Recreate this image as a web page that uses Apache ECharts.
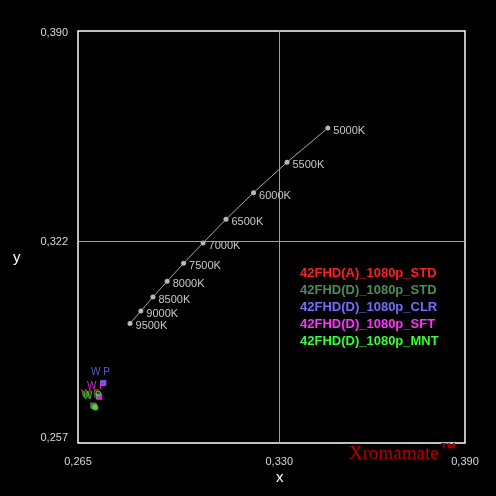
<!DOCTYPE html>
<html><head><meta charset="utf-8">
<script src="https://cdn.jsdelivr.net/npm/echarts@6/dist/echarts.min.js"></script>
<style>html,body{margin:0;padding:0;background:#000;}#c{width:496px;height:496px;}</style>
</head><body><div id="c"></div>
<script>
const locusLabels = ['5000K','5500K','6000K','6500K','7000K','7500K','8000K','8500K','9000K','9500K'];
const locusX = [0.3457,0.3325,0.3217,0.3128,0.3054,0.2991,0.2938,0.2892,0.2853,0.2818];
const locusY = [0.3587,0.3476,0.3378,0.3292,0.3216,0.3150,0.3092,0.3041,0.2996,0.2956];
const seriesNames = ['42FHD(A)_1080p_STD','42FHD(D)_1080p_STD','42FHD(D)_1080p_CLR','42FHD(D)_1080p_SFT','42FHD(D)_1080p_MNT'];
const seriesColors = ['#ff2020','#4c8c5c','#7070ff','#ff33ff','#33ff33'];
const wpX = [0.2702, 0.2699, 0.2732, 0.2719, 0.2706];
const wpY = [0.2689, 0.2691, 0.2764, 0.2719, 0.2685];
const wpLabel = 'W P';
const xTicks = [0.265, 0.330, 0.390];
const yTicks = [0.257, 0.322, 0.390];
const xMid = 0.330, yMid = 0.322;

const fmt = v => v.toFixed(3).replace('.', ',');
const chart = echarts.init(document.getElementById('c'));

const wpSeries = seriesNames.map((n, i) => ({
  name: n, type: 'scatter', z: 5 + i,
  symbol: i === 4 ? 'circle' : 'rect', symbolSize: 6,
  itemStyle: { color: seriesColors[i] },
  label: { show: true, position: 'top', distance: 3, offset: [-3, 0], formatter: wpLabel,
           color: seriesColors[i], fontSize: 10, fontFamily: 'Liberation Sans' },
  data: [[wpX[i], wpY[i]]]
}));

const yLabelFmt = v => {
  const s = fmt(v);
  if (Math.abs(v - yTicks[0]) < 1e-9) return '{lo|' + s + '}';
  if (Math.abs(v - yTicks[2]) < 1e-9) return '{hi|' + s + '}';
  return s;
};
const yLabelRich = {
  lo: { color: '#d8d8d8', fontSize: 11, fontFamily: 'Liberation Sans', padding: [0, 0, 10, 0] },
  hi: { color: '#d8d8d8', fontSize: 11, fontFamily: 'Liberation Sans', padding: [4, 0, 0, 0] }
};

chart.setOption({
  backgroundColor: '#000',
  animation: false,
  grid: { left: 78, right: 31, top: 31, bottom: 53, show: true, borderColor: '#ffffff', borderWidth: 1.5, backgroundColor: 'transparent' },
  xAxis: {
    type: 'value', min: xTicks[0], max: xTicks[2],
    axisLine: { show: false }, axisTick: { show: false }, splitLine: { show: false },
    axisLabel: { customValues: xTicks, formatter: fmt, color: '#d8d8d8', fontSize: 11, fontFamily: 'Liberation Sans', margin: 13 }
  },
  yAxis: {
    type: 'value', min: yTicks[0], max: yTicks[2],
    axisLine: { show: false }, axisTick: { show: false }, splitLine: { show: false },
    axisLabel: { customValues: yTicks, formatter: yLabelFmt, rich: yLabelRich, color: '#d8d8d8', fontSize: 11, fontFamily: 'Liberation Sans', margin: 10 }
  },
  legend: {
    data: seriesNames.map((n, i) => ({ name: n, textStyle: { color: seriesColors[i] } })),
    orient: 'vertical', left: 290, top: 262, icon: 'none', itemWidth: 0, itemHeight: 13, itemGap: 4,
    selectedMode: false,
    textStyle: { fontSize: 13, fontWeight: 'bold', fontFamily: 'Liberation Sans' }
  },
  graphic: [
    { type: 'text', left: 13, top: 250, style: { text: 'y', fill: '#ffffff', font: '15px Liberation Sans' } },
    { type: 'text', left: 276, top: 470, style: { text: 'x', fill: '#ffffff', font: '15px Liberation Sans' } },
    { type: 'text', left: 349, top: 445, style: { text: 'Xromamate', fill: '#b80000', font: '19px Liberation Serif' } },
    { type: 'text', left: 440, top: 442, style: { text: '\u2122', fill: '#b80000', font: 'bold 17px Liberation Sans' } }
  ],
  series: [
    {
      name: 'locus', type: 'line', z: 3,
      symbol: 'circle', symbolSize: 5,
      lineStyle: { color: '#a8a8a8', width: 1 },
      itemStyle: { color: '#b8b8b8' },
      label: { show: true, position: 'right', distance: 3, offset: [0, 3], color: '#c8c8c8', fontSize: 11, fontFamily: 'Liberation Sans',
               formatter: p => locusLabels[p.dataIndex] },
      data: locusX.map((x, i) => [x, locusY[i]]),
      markLine: {
        silent: true, symbol: 'none', label: { show: false },
        lineStyle: { color: '#a0a0a0', width: 1, type: 'solid' },
        data: [
          [{ coord: [xMid, yTicks[0]] }, { coord: [xMid, yTicks[2]] }],
          [{ coord: [xTicks[0], yMid] }, { coord: [xTicks[2], yMid] }]
        ]
      }
    },
    ...wpSeries
  ]
});
</script></body></html>
